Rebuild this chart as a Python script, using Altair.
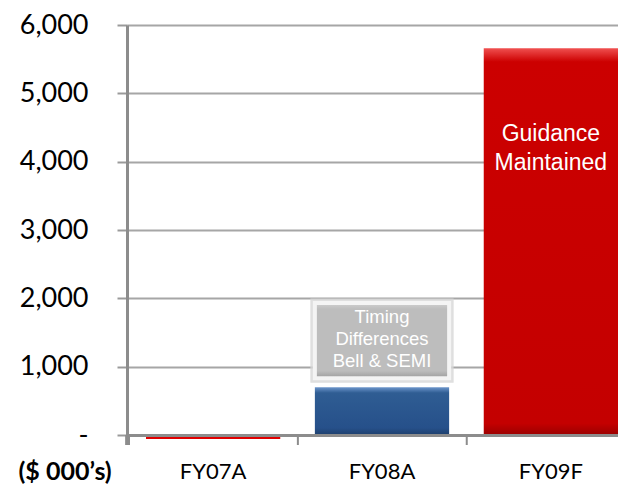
import altair as alt
import pandas as pd

categories = ["FY07A", "FY08A", "FY09F"]
bar_values = [-60, 700, 5660]

timing_category = "FY08A"
timing_low = 830
timing_high = 1930
timing_lines = ["Timing", "Differences", "Bell & SEMI"]
timing_first_line_y = 1720

guidance_category = "FY09F"
guidance_lines = ["Guidance", "Maintained"]
guidance_first_line_y = 4405

y_ticks = [0, 1000, 2000, 3000, 4000, 5000, 6000]
y_title = "($ 000\u2019s)"

bars = pd.DataFrame({"category": categories, "value": bar_values})
timing = pd.DataFrame({"category": [timing_category], "low": [timing_low], "high": [timing_high],
                       "label": ["\n".join(timing_lines)], "ty": [timing_first_line_y]})
guidance = pd.DataFrame({"category": [guidance_category], "label": ["\n".join(guidance_lines)],
                         "ty": [guidance_first_line_y]})

x_scale = alt.Scale(domain=categories, paddingInner=0.205, paddingOuter=0.05625, align=1.0)
y_scale = alt.Scale(domain=[0, 6000], nice=False, zero=True)

x_enc = alt.X("category:N", scale=x_scale, sort=categories,
              axis=alt.Axis(title=None, labelAngle=0, labelFont="Lato", labelFontSize=22,
                            labelColor="#000000", labelPadding=26, ticks=False,
                            domainColor="#8c8c8c", domainWidth=3, zindex=1))
y_axis = alt.Axis(values=y_ticks, title=y_title, titleAngle=0, titleAlign="left",
                  titleBaseline="alphabetic", titleX=-109, titleY=454,
                  titleFont="Lato", titleFontSize=25, titleFontWeight="bold", titleColor="#000000",
                  labelExpr="datum.value == 0 ? '-' : format(datum.value, ',')",
                  labelFont="Lato", labelFontSize=27, labelColor="#000000", labelPadding=29,
                  tickSize=10, tickColor="#9a9a9a", tickWidth=2,
                  grid=True, gridColor="#a6a6a6", gridWidth=2,
                  domainColor="#8c8c8c", domainWidth=3)

def grad(stops):
    return {"gradient": "linear", "x1": 0, "y1": 0, "x2": 0, "y2": 1,
            "stops": [{"offset": o, "color": c} for o, c in stops]}

base = alt.Chart(bars)

bar07 = base.transform_filter(alt.datum.category == "FY07A").mark_bar(
    color="#e00000", clip=False).encode(
    x=x_enc, y=alt.Y("value:Q", scale=y_scale, axis=y_axis))

bar08 = base.transform_filter(alt.datum.category == "FY08A").mark_bar(
    color=grad([(0, "#6d96cc"), (0.12, "#2f5d93"), (0.85, "#26508a"), (1, "#1d3f6c")]),
    clip=False).encode(x=x_enc, y=alt.Y("value:Q", scale=y_scale))

bar09 = base.transform_filter(alt.datum.category == "FY09F").mark_bar(
    color=grad([(0, "#f05050"), (0.035, "#cc0000"), (0.97, "#c40000"), (1, "#9a0000")]),
    clip=False).encode(x=x_enc, y=alt.Y("value:Q", scale=y_scale))

# category-boundary tick marks under the x axis
xticks = base.mark_rule(color="#8c8c8c", strokeWidth=2).encode(
    x=alt.X("category:N", scale=x_scale, sort=categories, bandPosition=0),
    xOffset=alt.value(-17),
    y=alt.value(410), y2=alt.value(420))
yext = base.mark_rule(color="#8c8c8c", strokeWidth=3).encode(
    x=alt.value(0), y=alt.value(410), y2=alt.value(420))

tshadow = alt.Chart(timing).mark_bar(color="#d0d0d0", stroke="#d8d8d8", strokeWidth=9,
                                     opacity=0.8).encode(
    x=x_enc, y=alt.Y("low:Q", scale=y_scale), y2="high:Q")
tbox = alt.Chart(timing).mark_bar(
    color=grad([(0, "#d0d0d0"), (0.08, "#bdbdbd"), (0.9, "#bdbdbd"), (1, "#9c9c9c")]),
    stroke="#f4f4f4", strokeWidth=4).encode(
    x=x_enc, y=alt.Y("low:Q", scale=y_scale), y2="high:Q")
ttext = alt.Chart(timing).mark_text(font="Liberation Sans", fontSize=18.5, color="#ffffff",
                                    lineBreak="\n", lineHeight=22, baseline="middle").encode(
    x=x_enc, y=alt.Y("ty:Q", scale=y_scale), text="label:N")

gtext = alt.Chart(guidance).mark_text(font="Liberation Sans", fontSize=23, color="#ffffff",
                                      lineBreak="\n", lineHeight=29, baseline="middle").encode(
    x=x_enc, y=alt.Y("ty:Q", scale=y_scale), text="label:N")

chart = alt.layer(bar07, bar08, bar09, xticks, yext, tshadow, tbox, ttext, gtext).properties(
    width=491, height=410,
    autosize=alt.AutoSizeParams(type="none"),
    padding={"left": 119, "top": 17, "right": 0, "bottom": 50},
    background="#ffffff",
).configure_view(stroke=None)

chart.save("out.html", embed_options={"renderer": "svg", "actions": False})
